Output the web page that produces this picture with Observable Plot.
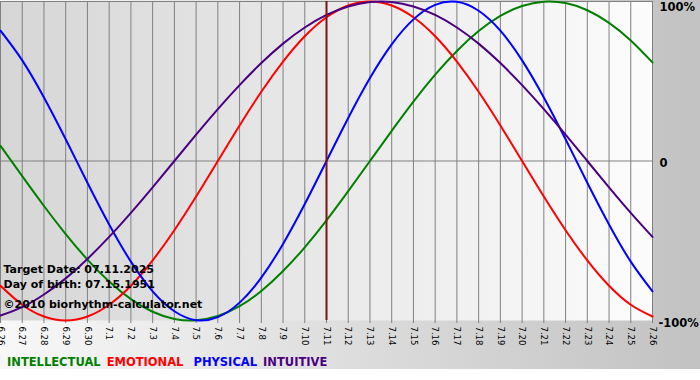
<!DOCTYPE html>
<html>
<head>
<meta charset="utf-8">
<script src="https://cdn.jsdelivr.net/npm/d3@7"></script>
<script src="https://cdn.jsdelivr.net/npm/@observablehq/plot@0.6"></script>
<style>
  html, body { margin: 0; padding: 0; background: #ffffff; }
  #wrap { position: relative; width: 700px; height: 369px; background: linear-gradient(to right, #f8f8f8, #c2c2c2); overflow: hidden; }
  #legend { position: absolute; left: 7px; top: 355px; height: 14px; line-height: 14px; font-family: "DejaVu Sans", Verdana, sans-serif; font-weight: bold; font-size: 11.5px; white-space: nowrap; }
</style>
</head>
<body>
<div id="wrap"><div id="chart"></div><div id="legend"></div></div>
<script>
// ---- data ----
const dates = ["2025-06-26","2025-06-27","2025-06-28","2025-06-29","2025-06-30","2025-07-01","2025-07-02","2025-07-03","2025-07-04","2025-07-05","2025-07-06","2025-07-07","2025-07-08","2025-07-09","2025-07-10","2025-07-11","2025-07-12","2025-07-13","2025-07-14","2025-07-15","2025-07-16","2025-07-17","2025-07-18","2025-07-19","2025-07-20","2025-07-21","2025-07-22","2025-07-23","2025-07-24","2025-07-25","2025-07-26"];
const tickLabels = ["6.26","6.27","6.28","6.29","6.30","7.1","7.2","7.3","7.4","7.5","7.6","7.7","7.8","7.9","7.10","7.11","7.12","7.13","7.14","7.15","7.16","7.17","7.18","7.19","7.20","7.21","7.22","7.23","7.24","7.25","7.26"];
const intellectual = [0.095,-0.095,-0.282,-0.458,-0.618,-0.756,-0.866,-0.945,-0.990,-0.999,-0.972,-0.910,-0.815,-0.690,-0.541,-0.372,-0.189,0,0.189,0.372,0.541,0.690,0.815,0.910,0.972,0.999,0.990,0.945,0.866,0.756,0.618];
const emotional = [-0.782,-0.901,-0.975,-1,-0.975,-0.901,-0.782,-0.623,-0.434,-0.223,0,0.223,0.434,0.623,0.782,0.901,0.975,1,0.975,0.901,0.782,0.623,0.434,0.223,0,-0.223,-0.434,-0.623,-0.782,-0.901,-0.975];
const physical = [0.817,0.631,0.398,0.136,-0.136,-0.398,-0.631,-0.817,-0.942,-0.998,-0.979,-0.888,-0.731,-0.520,-0.270,0,0.270,0.520,0.731,0.888,0.979,0.998,0.942,0.817,0.631,0.398,0.136,-0.136,-0.398,-0.631,-0.817];
const intuitive = [-0.969,-0.916,-0.837,-0.736,-0.614,-0.476,-0.325,-0.165,0,0.165,0.325,0.476,0.614,0.736,0.837,0.916,0.969,0.997,0.997,0.969,0.916,0.837,0.736,0.614,0.476,0.325,0.165,0,-0.165,-0.325,-0.476];
const seriesNames = ["INTELLECTUAL","EMOTIONAL","PHYSICAL","INTUITIVE"];
const seriesColors = ["#008000","#ff0000","#0000ff","#4b0082"];
const targetDate = "2025-07-11";
const infoLines = ["Target Date: 07.11.2025","Day of birth: 07.15.1951","\u00a92010 biorhythm-calculator.net"];
const yTickValues = [1, 0, -1];
const yTickLabels = ["100%", "0", "-100%"];

// ---- build tables ----
const dateObjs = dates.map(s => new Date(s + "T00:00:00Z"));
const seriesValues = [intellectual, emotional, physical, intuitive];
const rows = [];
seriesValues.forEach((vals, k) => vals.forEach((v, i) => rows.push({date: dateObjs[i], value: v, series: seriesNames[k]})));
const labelOf = new Map(dateObjs.map((d, i) => [+d, tickLabels[i]]));

const defs = () => {
  const ns = "http://www.w3.org/2000/svg";
  const d = document.createElementNS(ns, "defs");
  const g = document.createElementNS(ns, "linearGradient");
  g.setAttribute("id", "plotGrad");
  g.setAttribute("x1", "0"); g.setAttribute("x2", "1"); g.setAttribute("y1", "0"); g.setAttribute("y2", "0");
  [["0", "#d6d6d6"], ["1", "#fcfcfc"]].forEach(([o, c]) => {
    const s = document.createElementNS(ns, "stop");
    s.setAttribute("offset", o); s.setAttribute("stop-color", c);
    g.appendChild(s);
  });
  d.appendChild(g);
  return d;
};

const textFont = {fontFamily: "DejaVu Sans, Verdana, sans-serif", fontWeight: "bold", fontSize: 11};

const chart = Plot.plot({
  width: 700,
  height: 355,
  marginLeft: 0,
  marginRight: 48,
  marginTop: 1,
  marginBottom: 35,
  style: {background: "transparent", overflow: "visible", fontFamily: "DejaVu Sans, Verdana, sans-serif"},
  x: {type: "utc", domain: [dateObjs[0], dateObjs[dateObjs.length - 1]]},
  y: {domain: [-1, 1]},
  color: {domain: seriesNames, range: seriesColors},
  marks: [
    defs,
    Plot.frame({fill: "url(#plotGrad)", stroke: null}),
    Plot.gridX(dateObjs, {stroke: "#808080", strokeOpacity: 1, strokeWidth: 1}),
    Plot.ruleY([0], {stroke: "#808080", strokeWidth: 1}),
    Plot.ruleY([1], {stroke: "#808080", strokeWidth: 1}),
    Plot.axisX({ticks: dateObjs, tickFormat: d => labelOf.get(+d), tickRotate: 90, tickSize: 3, tickPadding: 3, stroke: "#808080", fill: "#000", fontSize: 8.5, label: null}),
    Plot.axisY({ticks: [], label: null, tickSize: 0}),
    Plot.line(rows, {x: "date", y: "value", stroke: "series", z: "series", strokeWidth: 2, curve: "natural"}),
    Plot.ruleX([new Date(targetDate + "T00:00:00Z")], {stroke: "#7a1414", strokeWidth: 2, y1: 1, y2: -1}),
    Plot.text([infoLines[0]], {frameAnchor: "bottom-left", dx: 3, dy: -48, textAnchor: "start", fill: "#000", ...textFont}),
    Plot.text([infoLines[1]], {frameAnchor: "bottom-left", dx: 3, dy: -33, textAnchor: "start", fill: "#000", ...textFont}),
    Plot.text([infoLines[2]], {frameAnchor: "bottom-left", dx: 3, dy: -13, textAnchor: "start", fill: "#000", ...textFont}),
    Plot.text([yTickValues[0]], {y: d => d, text: () => yTickLabels[0], frameAnchor: "right", dx: 7, dy: 6, textAnchor: "start", fill: "#000", ...textFont, fontSize: 11.5}),
    Plot.text([yTickValues[1]], {y: d => d, text: () => yTickLabels[1], frameAnchor: "right", dx: 7, dy: 2, textAnchor: "start", fill: "#000", ...textFont, fontSize: 11.5}),
    Plot.text([yTickValues[2]], {y: d => d, text: () => yTickLabels[2], frameAnchor: "right", dx: 6, dy: 2.5, textAnchor: "start", fill: "#000", ...textFont, fontSize: 11.5})
  ]
});
document.getElementById("chart").appendChild(chart);

const legend = document.getElementById("legend");
const legendGaps = [6, 10, 6, 0];
seriesNames.forEach((n, i) => {
  const s = document.createElement("span");
  s.textContent = n;
  s.style.color = seriesColors[i];
  s.style.marginRight = legendGaps[i] + "px";
  legend.appendChild(s);
});
</script>
</body>
</html>
